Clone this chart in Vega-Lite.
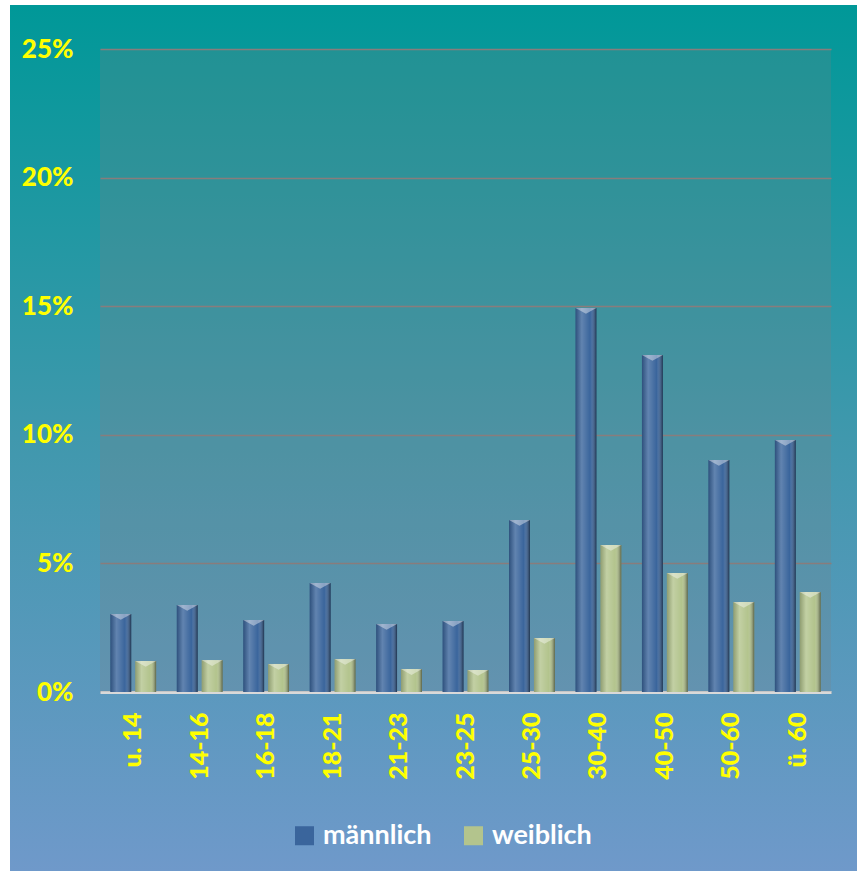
{
  "$schema": "https://vega.github.io/schema/vega-lite/v6.json",
  "width": 847,
  "height": 866,
  "autosize": "none",
  "padding": {"left": 10, "top": 5, "right": 0, "bottom": 0},
  "background": "#ffffff",
  "config": {
    "view": {
      "stroke": null,
      "fill": {
        "gradient": "linear",
        "x1": 0, "y1": 0, "x2": 0, "y2": 1,
        "stops": [
          {"offset": 0, "color": "#009898"},
          {"offset": 0.5, "color": "#4098ad"},
          {"offset": 1, "color": "#6f99ca"}
        ]
      }
    },
    "font": "Lato"
  },
  "datasets": {
    "rows": [
      {"age": "u. 14", "sex": "männlich", "pct": 0.0303},
      {"age": "u. 14", "sex": "weiblich", "pct": 0.0121},
      {"age": "14-16", "sex": "männlich", "pct": 0.0338},
      {"age": "14-16", "sex": "weiblich", "pct": 0.0124},
      {"age": "16-18", "sex": "männlich", "pct": 0.0280},
      {"age": "16-18", "sex": "weiblich", "pct": 0.0109},
      {"age": "18-21", "sex": "männlich", "pct": 0.0424},
      {"age": "18-21", "sex": "weiblich", "pct": 0.0128},
      {"age": "21-23", "sex": "männlich", "pct": 0.0264},
      {"age": "21-23", "sex": "weiblich", "pct": 0.0089},
      {"age": "23-25", "sex": "männlich", "pct": 0.0276},
      {"age": "23-25", "sex": "weiblich", "pct": 0.0086},
      {"age": "25-30", "sex": "männlich", "pct": 0.0669},
      {"age": "25-30", "sex": "weiblich", "pct": 0.0210},
      {"age": "30-40", "sex": "männlich", "pct": 0.1493},
      {"age": "30-40", "sex": "weiblich", "pct": 0.0572},
      {"age": "40-50", "sex": "männlich", "pct": 0.1310},
      {"age": "40-50", "sex": "weiblich", "pct": 0.0463},
      {"age": "50-60", "sex": "männlich", "pct": 0.0902},
      {"age": "50-60", "sex": "weiblich", "pct": 0.0350},
      {"age": "ü. 60", "sex": "männlich", "pct": 0.0980},
      {"age": "ü. 60", "sex": "weiblich", "pct": 0.0389}
    ],
    "plotarea": [{"x0": 0, "x1": 1, "y0": 0, "y1": 0.25}]
  },
  "layer": [
    {
      "data": {"name": "plotarea"},
      "mark": {"type": "rect", "fill": "#808080", "fillOpacity": 0.22},
      "encoding": {
        "x": {"field": "x0", "type": "quantitative", "scale": {"domain": [0, 1], "range": [90, 821], "nice": false, "zero": false}, "axis": null},
        "x2": {"field": "x1"},
        "y": {"field": "y0", "type": "quantitative", "scale": {"domain": [0, 0.25], "range": [687, 44], "nice": false}},
        "y2": {"field": "y1"}
      }
    },
    {
      "data": {"name": "rows"},
      "layer": [
        {
          "mark": {"type": "bar"},
          "encoding": {
            "x": {
              "field": "age", "type": "nominal", "sort": null,
              "scale": {"range": [90, 821], "paddingInner": 0.31, "paddingOuter": 0.155},
              "axis": {
                "title": null, "orient": "bottom", "offset": -179,
                "labelAngle": 270, "labelAlign": "right", "labelBaseline": "middle",
                "labelPadding": 20, "ticks": false, "tickSize": 0,
                "labelColor": "#ffff00", "labelFont": "Lato", "labelFontWeight": 900, "labelFontSize": 25,
                "domain": true, "domainColor": "#d9d9d9", "domainWidth": 3, "grid": false
              }
            },
            "xOffset": {"field": "sex", "type": "nominal", "scale": {"paddingInner": 0.16, "paddingOuter": 0}},
            "y": {
              "field": "pct", "type": "quantitative",
              "scale": {"domain": [0, 0.25], "range": [687, 44], "nice": false},
              "axis": {
                "title": null, "orient": "left", "offset": -90,
                "values": [0, 0.05, 0.1, 0.15, 0.2, 0.25], "format": ".0%",
                "labelPadding": 27, "ticks": false, "tickSize": 0, "domain": false,
                "labelColor": "#ffff00", "labelFont": "Lato", "labelFontWeight": 900, "labelFontSize": 26,
                "grid": true, "gridColor": "#8c7c7c", "gridWidth": 1.5
              }
            },
            "color": {
              "field": "sex", "type": "nominal",
              "scale": {"domain": ["männlich", "weiblich"], "range": ["#3a659c", "#b3c48d"]},
              "legend": {
                "title": null, "orient": "none", "direction": "horizontal",
                "legendX": 281, "legendY": 817,
                "symbolType": "square", "symbolSize": 361, "symbolStrokeWidth": 0, "symbolOpacity": 1,
                "labelFont": "Lato", "labelFontWeight": "bold", "labelFontSize": 27, "labelColor": "#ffffff",
                "labelOffset": 5, "columnPadding": 28
              }
            }
          }
        },
        {
          "mark": {
            "type": "bar",
            "fill": {
              "gradient": "linear", "x1": 0, "y1": 0, "x2": 1, "y2": 0,
              "stops": [
                {"offset": 0, "color": "rgba(0,0,0,0.2)"},
                {"offset": 0.3, "color": "rgba(255,255,255,0.2)"},
                {"offset": 0.7, "color": "rgba(255,255,255,0.0)"},
                {"offset": 1, "color": "rgba(0,0,0,0.5)"}
              ]
            }
          },
          "encoding": {
            "x": {"field": "age", "type": "nominal", "sort": null},
            "xOffset": {"field": "sex", "type": "nominal"},
            "y": {"field": "pct", "type": "quantitative"}
          }
        },
        {
          "mark": {"type": "point", "shape": "M-1,0L1,0L0,0.55Z", "filled": true, "fill": "#ffffff", "fillOpacity": 0.4, "strokeWidth": 0, "size": 441},
          "encoding": {
            "x": {"field": "age", "type": "nominal", "sort": null},
            "xOffset": {"field": "sex", "type": "nominal"},
            "y": {"field": "pct", "type": "quantitative"}
          }
        }
      ]
    }
  ],
  "resolve": {"scale": {"x": "independent"}}
}
